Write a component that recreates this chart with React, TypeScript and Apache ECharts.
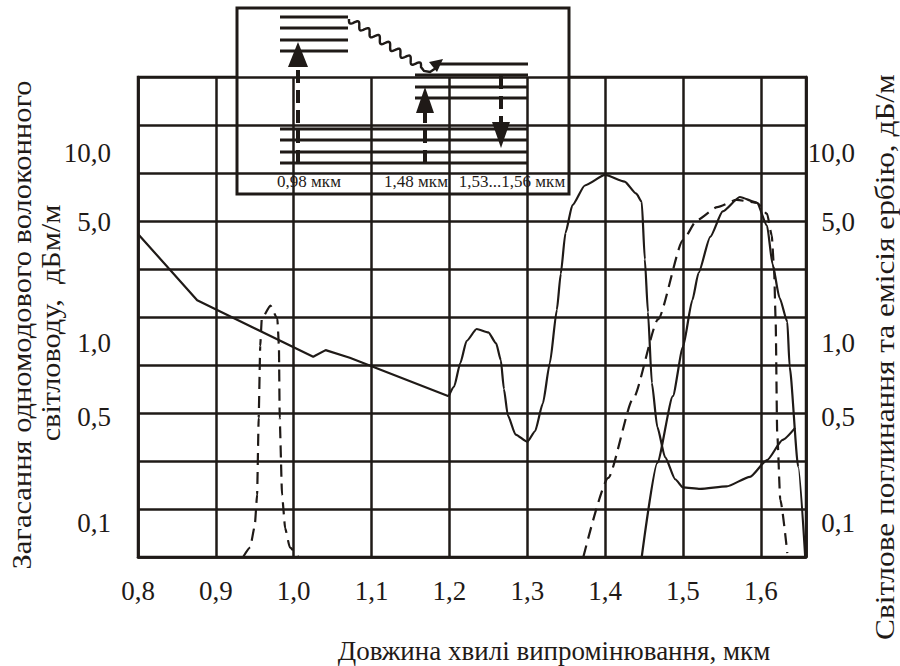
import React, { useEffect, useRef } from 'react';
import * as echarts from 'echarts';

// ---- data (y in grid-row units of the original figure, 0 = bottom line, 10 = top line) ----
const yTickPositions = [0.71, 2.91, 4.46, 6.97, 8.42];
const yTickLabels = ['0,1', '0,5', '1,0', '5,0', '10,0'];

// fibre attenuation: straight-segment part and the OH-band part
const fiberLossLinear: number[][] = [
  [0.8, 6.73], [0.876, 5.35], [1.025, 4.17], [1.041, 4.31], [1.072, 4.15], [1.199, 3.35]
];
const fiberLossBands: number[][] = [
  [1.199, 3.35], [1.206, 3.55], [1.214, 4.04], [1.222, 4.5], [1.235, 4.75], [1.25, 4.68],
  [1.26, 4.45], [1.266, 4.1], [1.27, 3.5], [1.275, 2.95], [1.285, 2.55], [1.3, 2.4], [1.31, 2.62],
  [1.32, 3.2], [1.329, 4.04], [1.338, 5.15], [1.343, 5.9], [1.349, 6.75], [1.358, 7.33],
  [1.374, 7.74], [1.4, 7.96], [1.425, 7.82], [1.44, 7.57], [1.447, 7.4], [1.451, 6.2],
  [1.455, 5.1], [1.46, 3.63], [1.467, 2.71], [1.477, 2.08], [1.49, 1.62], [1.5, 1.45],
  [1.522, 1.42], [1.556, 1.47], [1.586, 1.67], [1.608, 2.02], [1.628, 2.44], [1.644, 2.69]
];

const erbiumAbsorption: number[][] = [
  [1.447, 0], [1.467, 1.96], [1.487, 3.35], [1.5, 4.38], [1.512, 5.35], [1.52, 5.92],
  [1.535, 6.67], [1.551, 7.2], [1.573, 7.5], [1.595, 7.38], [1.608, 6.9], [1.615, 6.1],
  [1.624, 5.4], [1.634, 4.9], [1.637, 3.96], [1.648, 1.88], [1.657, 0]
];

const pumpBand: number[][] = [
  [0.935, 0], [0.944, 0.2], [0.95, 0.65], [0.953, 1.3], [0.955, 2.9], [0.957, 4.4],
  [0.959, 4.96], [0.97, 5.24], [0.979, 4.96], [0.981, 4.4], [0.982, 2.9], [0.985, 1.3],
  [0.989, 0.6], [0.995, 0.2], [1.006, 0]
];

const erbiumEmission: number[][] = [
  [1.372, 0], [1.404, 1.65], [1.436, 3.3], [1.468, 4.95], [1.5, 6.6], [1.518, 7.02],
  [1.544, 7.29], [1.569, 7.44], [1.595, 7.38], [1.608, 7.15], [1.614, 6.7], [1.617, 6.0],
  [1.619, 4.94], [1.621, 2.58], [1.625, 1.19], [1.634, 0.08]
];

const insetLabels = ['0,98 мкм', '1,48 мкм', '1,53...1,56 мкм'];
const xTitle = 'Довжина хвилі випромінювання, мкм';
const leftTitle = ['Загасання одномодового волоконного', 'світловоду,  дБм/м'];
const rightTitle = 'Світлове поглинання та емісія ербію, дБ/м';

const INK = '#1f1a17';
const FONT = 'Liberation Serif';

function levelLines(x1: number, x2: number, ys: number[]) {
  return ys.map((y) => ({
    type: 'line',
    shape: { x1, y1: y, x2, y2: y },
    style: { stroke: INK, lineWidth: 3 }
  }));
}

function wavyPoints() {
  const p0 = [349, 19];
  const p1 = [421, 67];
  const dx = p1[0] - p0[0];
  const dy = p1[1] - p0[1];
  const len = Math.sqrt(dx * dx + dy * dy);
  const nx = -dy / len;
  const ny = dx / len;
  const pts: number[][] = [];
  const steps = 160;
  for (let i = 0; i <= steps; i++) {
    const t = i / steps;
    const s = 3.2 * Math.sin(2 * Math.PI * 7 * t);
    pts.push([p0[0] + dx * t + nx * s, p0[1] + dy * t + ny * s]);
  }
  pts.push([424, 71], [430, 72], [436, 68]);
  return pts;
}

function dashedArrow(x: number, yFrom: number, yBase: number, yTip: number, half: number) {
  return [
    {
      type: 'line',
      shape: { x1: x, y1: yFrom, x2: x, y2: yBase },
      style: { stroke: INK, lineWidth: 4, lineDash: [13, 7] }
    },
    {
      type: 'polygon',
      shape: { points: [[x, yTip], [x - half, yBase], [x + half, yBase]] },
      style: { fill: INK }
    }
  ];
}

export default function App() {
  const ref = useRef<HTMLDivElement>(null);

  useEffect(() => {
    if (!ref.current) return;
    const chart = echarts.init(ref.current, undefined, { renderer: 'svg' });

    const labelFor = (v: number) => {
      const i = yTickPositions.findIndex((p) => Math.abs(p - v) < 1e-6);
      return i >= 0 ? yTickLabels[i] : '';
    };

    const lineSeries = (name: string, data: number[][], dashed: boolean, smooth: number) => ({
      name,
      type: 'line',
      data,
      showSymbol: false,
      symbol: 'none',
      smooth: smooth > 0 ? smooth : false,
      smoothMonotone: 'x',
      clip: true,
      lineStyle: { color: INK, width: 2.2, type: dashed ? [12, 7] : 'solid' },
      z: 5
    });

    const insetText = (i: number, x: number) => ({
      type: 'text',
      x,
      y: 181,
      style: {
        text: insetLabels[i],
        fontFamily: FONT,
        fontSize: 17,
        fill: INK,
        align: 'center',
        verticalAlign: 'middle'
      }
    });

    const inset = {
      type: 'group',
      z: 100,
      children: [
        {
          type: 'rect',
          shape: { x: 237, y: 8, width: 332, height: 186 },
          style: { fill: '#ffffff', stroke: INK, lineWidth: 3 }
        },
        ...levelLines(280, 348, [17, 28, 40, 51]),
        ...levelLines(437, 528, [64]),
        ...levelLines(415, 528, [75, 87, 98]),
        ...levelLines(280, 528, [129, 140, 152, 163]),
        ...dashedArrow(298, 163, 67, 42, 10),
        ...dashedArrow(425, 163, 113, 87, 9),
        {
          type: 'line',
          shape: { x1: 501, y1: 76, x2: 501, y2: 122 },
          style: { stroke: INK, lineWidth: 4, lineDash: [13, 7] }
        },
        {
          type: 'polygon',
          shape: { points: [[501, 148], [492, 122], [510, 122]] },
          style: { fill: INK }
        },
        {
          type: 'polyline',
          shape: { points: wavyPoints() },
          style: { stroke: INK, lineWidth: 2.4, fill: null }
        },
        {
          type: 'polygon',
          shape: { points: [[443, 59], [429, 62], [437, 72]] },
          style: { fill: INK }
        },
        insetText(0, 309),
        insetText(1, 416),
        insetText(2, 512)
      ]
    };

    const titleText = (text: string, x: number, y: number, rotated: boolean, stretch: number) => ({
      type: 'text',
      x,
      y,
      rotation: rotated ? Math.PI / 2 : 0,
      scaleX: stretch,
      z: 50,
      style: {
        text,
        fontFamily: FONT,
        fontSize: 27,
        fill: INK,
        align: 'center',
        verticalAlign: 'middle'
      }
    });

    const titles = [
      titleText(xTitle, 554, 651, false, 1),
      titleText(leftTitle[0], 22, 325, true, 1.13),
      titleText(leftTitle[1], 51, 323, true, 1.12),
      titleText(rightTitle, 885, 357, true, 1.16)
    ];

    const axisLineStyle = { color: INK, width: 2.5 };
    const labelStyle = { fontSize: 27, fontFamily: FONT, color: INK };

    chart.setOption({
      animation: false,
      backgroundColor: '#ffffff',
      grid: {
        left: 138,
        top: 77,
        width: 668,
        height: 480,
        show: true,
        borderColor: INK,
        borderWidth: 2.5,
        backgroundColor: 'transparent'
      },
      xAxis: {
        type: 'value',
        min: 0.8,
        max: 1.658,
        interval: 0.1,
        axisLine: { show: true, lineStyle: axisLineStyle },
        axisTick: { show: false },
        splitLine: { show: true, lineStyle: axisLineStyle },
        axisLabel: {
          ...labelStyle,
          showMaxLabel: false,
          formatter: (v: number) => v.toFixed(1).replace('.', ','),
          margin: 20
        }
      },
      yAxis: [
        {
          type: 'value',
          position: 'left',
          min: 0,
          max: 10,
          interval: 1,
          axisLine: { show: true, lineStyle: axisLineStyle },
          axisTick: { show: false },
          splitLine: { show: true, lineStyle: axisLineStyle },
          axisLabel: {
            ...labelStyle,
            customValues: yTickPositions,
            formatter: labelFor,
            margin: 27
          }
        },
        {
          type: 'value',
          position: 'right',
          min: 0,
          max: 10,
          interval: 1,
          axisLine: { show: true, lineStyle: axisLineStyle },
          axisTick: { show: false },
          splitLine: { show: false },
          axisLabel: {
            ...labelStyle,
            customValues: yTickPositions,
            formatter: labelFor,
            align: 'right',
            margin: 49
          }
        }
      ],
      series: [
        lineSeries('Загасання волокна', fiberLossLinear, false, 0),
        lineSeries('Загасання волокна (смуги OH)', fiberLossBands, false, 0.2),
        lineSeries('Поглинання ербію', erbiumAbsorption, false, 0.2),
        lineSeries('Смуга 0,98 мкм', pumpBand, true, 0.15),
        lineSeries('Емісія ербію', erbiumEmission, true, 0.2)
      ],
      graphic: [inset, ...titles]
    });

    return () => chart.dispose();
  }, []);

  return (
    <div
      ref={ref}
      style={{ position: 'absolute', left: 0, top: 0, width: 900, height: 666, background: '#fff' }}
    />
  );
}
